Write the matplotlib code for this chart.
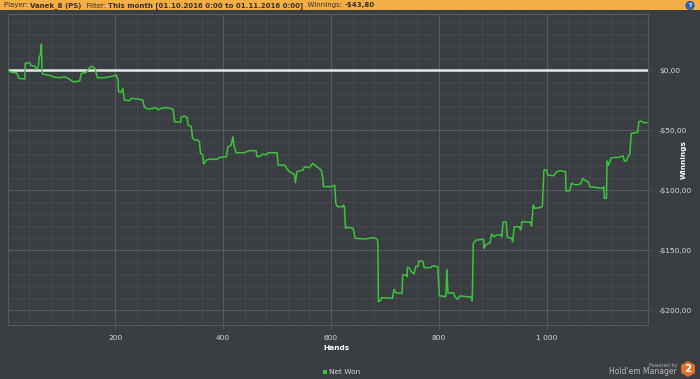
import matplotlib.pyplot as plt
from matplotlib.patches import Rectangle, Circle, RegularPolygon
from matplotlib.ticker import MultipleLocator, FuncFormatter

# hand number / cumulative net won ($)
hands = [1, 7, 17, 21, 32, 33, 41, 44, 51, 54, 57, 59, 61, 63, 64, 65, 81, 85, 97, 106,
         112, 122, 134, 137, 146, 152, 156, 162, 167, 180, 193, 202, 205, 206, 211, 214, 217, 226, 230, 242,
         251, 254, 261, 270, 276, 279, 285, 294, 307, 310, 321, 322, 328, 333, 335, 341, 343, 347, 353, 356,
         358, 362, 364, 369, 375, 390, 393, 406, 409, 415, 418, 420, 424, 439, 449, 461, 463, 470, 474, 480,
         483, 500, 502, 514, 520, 526, 532, 534, 537, 548, 551, 560, 566, 572, 582, 585, 586, 600, 607, 609,
         612, 622, 623, 625, 627, 632, 641, 645, 662, 680, 685, 687, 688, 693, 694, 714, 717, 720, 727, 732,
         733, 739, 741, 742, 746, 748, 754, 757, 762, 763, 770, 773, 785, 788, 798, 801, 813, 815, 817, 827,
         830, 835, 839, 853, 861, 862, 864, 869, 883, 884, 887, 895, 898, 902, 907, 915, 917, 919, 925, 927,
         935, 937, 940, 949, 952, 954, 970, 972, 974, 975, 978, 986, 992, 995, 1000, 1002, 1013, 1019, 1026, 1035,
         1036, 1043, 1046, 1054, 1063, 1067, 1072, 1077, 1080, 1091, 1103, 1106, 1107, 1111, 1112, 1115, 1119, 1125, 1134, 1137,
         1142, 1144, 1148, 1151, 1154, 1157, 1165, 1169, 1171, 1175, 1180, 1186]
net_won = [0, -1.9, -2.3, -6.9, -7.5, 5.6, 6.1, 3.6, 3.3, 0.6, 2.8, 11.1, 12.5, 21.7, 0, -3.3, -4.8, -5.8, -6.4, -5.6,
           -6.9, -9.8, -9.2, -2.8, -1.9, 1.9, 3.3, 1.4, -6.4, -6.4, -5.3, -4.2, -8.3, -18.1, -18.6, -15.3, -25, -25.6, -23.6, -24.2,
           -25, -31.1, -32.5, -31.9, -31.4, -33.3, -31.9, -31.4, -32.5, -43.1, -43.6, -39.4, -38.3, -39.4, -45.8, -47.2, -56.1, -58.3, -58.3, -59.7,
           -69.4, -70.8, -78.3, -75, -74.4, -74.2, -72.8, -72.2, -63.9, -62.5, -55.6, -62.5, -68.9, -68.9, -67.2, -67.2, -72.2, -71.7, -70, -70.8,
           -68.9, -68.9, -79.2, -79.2, -83.3, -85.6, -86.7, -93.9, -84.7, -83.3, -80.6, -81.4, -77.8, -80, -83.3, -90.3, -97.2, -97.2, -96.1, -111.1,
           -113.9, -113.9, -112.5, -113.9, -131.9, -131.1, -131.9, -140.3, -140.8, -139.7, -140.8, -143.1, -193.1, -191.7, -189.7, -190.3, -182.8, -185.6, -186.1, -186.1,
           -170.8, -170.8, -172.2, -164.4, -165.3, -167.5, -170, -163.9, -163.3, -159.2, -159.2, -164.7, -164.7, -163.3, -163.9, -188.1, -188.9, -166.1, -186.1, -185.6,
           -188.9, -191.1, -188.3, -188.9, -189.4, -192.5, -144.4, -141.7, -141.1, -148.6, -145.8, -143.9, -136.7, -138.9, -137.5, -137.5, -138.9, -126.7, -126.7, -139.4,
           -140.3, -143.1, -130.6, -130.6, -133.3, -126.4, -126.9, -130, -119.4, -112.5, -115.3, -114.7, -113.9, -83.3, -83.3, -87.5, -88.1, -84.7, -83.9, -84.7,
           -100.8, -100.6, -94.4, -95.8, -95, -90.3, -92.3, -93.1, -97.2, -97.8, -98.6, -97.2, -106.9, -106.9, -75.8, -79.2, -73.6, -72.8, -72.8, -72.2,
           -71.7, -75.8, -75.8, -71.7, -70.8, -52.8, -52.2, -51.9, -43.1, -42.5, -43.9, -43.8]

header = [("Player: ", "normal"), ("Vanek_8 (PS)", "bold"), ("  Filter: ", "normal"),
          ("This month [01.10.2016 0:00 to 01.11.2016 0:00]", "bold"), ("  Winnings: ", "normal"),
          ("-$43,80", "bold")]

BG = "#3a3d41"
TXT = "#d8d8d8"
GREEN = "#3cc43c"

fig = plt.figure(figsize=(7, 3.79), dpi=100, facecolor=BG)
W, H = 700.0, 379.0
inch = fig.dpi_scale_trans  # pixel positions / 100 -> inches

# orange header strip
fig.patches.append(Rectangle((0, 1 - 10 / H), 1, 10 / H, transform=fig.transFigure,
                             facecolor="#f4ae47", edgecolor="none", zorder=0))
hdr_y = 1 - 5.5 / H
renderer = fig.canvas.get_renderer()
x = 4 / W
for s, w in header:
    t = fig.text(x, hdr_y, s, fontsize=5, fontweight=w, color="#33302a", va="center")
    x += t.get_window_extent(renderer).width / W
fig.patches.append(Circle((6.90, (H - 5.5) / 100), 0.042, transform=inch,
                          facecolor="#2a6bc4", edgecolor="#1b4c90", lw=0.5))
fig.text(690 / W, hdr_y, "?", fontsize=4, fontweight="bold", color="white", ha="center", va="center")

ax = fig.add_axes([8 / W, 1 - 325 / H, 640 / W, 311 / H], facecolor=BG)

ax.plot(hands, net_won, color=GREEN, lw=1.1, zorder=3)
ax.axhline(0, color="#e6e6e6", lw=1.8, zorder=2)

ax.set_xlim(1, 1188)
ax.set_ylim(-212.5, 46.7)

ax.xaxis.set_major_locator(MultipleLocator(200))
ax.xaxis.set_minor_locator(MultipleLocator(40))
ax.yaxis.set_major_locator(MultipleLocator(50))
ax.yaxis.set_minor_locator(MultipleLocator(10))
ax.grid(which="major", color="#585b5f", lw=0.8)
ax.grid(which="minor", color="#46494d", lw=0.6)
ax.set_axisbelow(True)


def hands_fmt(v, p):
    v = int(round(v))
    return f"{v // 1000} {v % 1000:03d}" if v >= 1000 else str(v)


def money(v, p):
    s = f"${abs(v):.2f}".replace(".", ",")
    return ("-" + s) if v < 0 else s


ax.xaxis.set_major_formatter(FuncFormatter(hands_fmt))
ax.yaxis.set_major_formatter(FuncFormatter(money))
ax.yaxis.tick_right()
ax.tick_params(axis="both", which="major", colors="#5a5d61", labelcolor=TXT, labelsize=5.3, length=3, width=0.6)
ax.tick_params(axis="both", which="minor", length=0)
ax.tick_params(axis="y", pad=5)
ax.tick_params(axis="x", pad=4)
for s in ax.spines.values():
    s.set_color("#55585c")
    s.set_linewidth(0.8)

fig.text(336 / W, 1 - 348 / H, "Hands", color="white", fontsize=5.3, fontweight="bold", ha="center", va="center")
fig.text(684 / W, 1 - 160 / H, "Winnings", color="white", fontsize=5.3, fontweight="bold",
         rotation=90, ha="center", va="center")

# legend
fig.patches.append(Rectangle((323 / W, 1 - 374 / H), 4 / W, 4 / H, transform=fig.transFigure,
                             facecolor=GREEN, edgecolor="none"))
fig.text(329 / W, 1 - 372 / H, "Net Won", fontsize=5.3, color=TXT, va="center")

# branding
fig.text(677 / W, 1 - 365 / H, "Powered by", fontsize=3.5, color="#aaaaaa", ha="right", va="center")
fig.text(677 / W, 1 - 372 / H, "Hold'em Manager", fontsize=5.5, color="#bbbbbb", ha="right", va="center")
fig.patches.append(RegularPolygon((6.88, (H - 369) / 100), 6, radius=0.08, orientation=0,
                                  transform=inch, facecolor="#e0702a", edgecolor="none"))
fig.text(688 / W, 1 - 369 / H, "2", fontsize=7.5, fontweight="bold", color="white", ha="center", va="center")

fig.savefig("out.png", dpi=100, facecolor=BG)
